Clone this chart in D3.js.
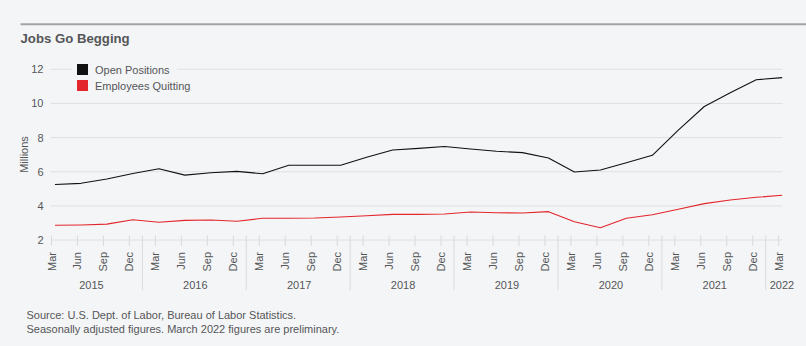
<!DOCTYPE html>
<html><head><meta charset="utf-8">
<script src="https://cdn.jsdelivr.net/npm/d3@7"></script>
<style>
html,body{margin:0;padding:0;background:#f4f5f7;}
svg{display:block;font-family:"Liberation Sans",Arial,sans-serif;}
</style></head>
<body><svg id="c" width="806" height="346"></svg>
<script>
const years = [2015,2015,2015,2015,2016,2016,2016,2016,2017,2017,2017,2017,2018,2018,2018,2018,2019,2019,2019,2019,2020,2020,2020,2020,2021,2021,2021,2021,2022];
const months = ["Mar","Jun","Sep","Dec","Mar","Jun","Sep","Dec","Mar","Jun","Sep","Dec","Mar","Jun","Sep","Dec","Mar","Jun","Sep","Dec","Mar","Jun","Sep","Dec","Mar","Jun","Sep","Dec","Mar"];
const openPositions = [5.25,5.32,5.57,5.9,6.17,5.8,5.94,6.02,5.88,6.38,6.38,6.38,6.85,7.27,7.37,7.48,7.33,7.2,7.12,6.8,5.98,6.1,6.53,6.96,8.44,9.82,10.63,11.39,11.51];
const employeesQuitting = [2.86,2.88,2.93,3.19,3.04,3.15,3.17,3.1,3.27,3.27,3.29,3.35,3.42,3.5,3.5,3.52,3.64,3.6,3.58,3.66,3.07,2.72,3.27,3.48,3.8,4.13,4.34,4.5,4.62];
const yTicks = [2,4,6,8,10,12];
const seriesNames = ["Open Positions","Employees Quitting"];
const seriesColors = ["#111111","#e3262b"];

const svg = d3.select("#c");
const textColor = "#555658";
const keys = years.map((y,i)=>y+"-"+i);
const x = d3.scalePoint().domain(keys).range([51.5,778.7]);
const step = x.step();
const y = d3.scaleLinear().domain([2,12]).range([240,69.3]);
const gridL = 50.7, gridR = 782.3;

// top rule + title
svg.append("line").attr("x1",20.5).attr("x2",806).attr("y1",24.3).attr("y2",24.3).attr("stroke","#a5a5a7").attr("stroke-width",2);
svg.append("text").attr("x",20.5).attr("y",42.5).attr("font-size",13.2).attr("font-weight","bold").attr("fill",textColor).text("Jobs Go Begging");

// gridlines
svg.append("g").selectAll("line").data(yTicks).join("line")
  .attr("x1",gridL).attr("x2",gridR).attr("y1",d=>y(d)).attr("y2",d=>y(d))
  .attr("stroke","#dfe0e3").attr("stroke-width",1);
// y labels
svg.append("g").selectAll("text").data(yTicks).join("text")
  .attr("x",43.5).attr("y",d=>y(d)+4).attr("text-anchor","end")
  .attr("font-size",11).attr("fill",textColor).text(d=>d);
svg.append("text").attr("transform","translate(27.5,154.5) rotate(-90)").attr("text-anchor","middle")
  .attr("font-size",11).attr("fill",textColor).text("Millions");

// x axis ticks
const gx = svg.append("g");
gx.selectAll("line.t").data(keys).join("line").attr("class","t")
  .attr("x1",d=>x(d)).attr("x2",d=>x(d)).attr("y1",235.5).attr("y2",246)
  .attr("stroke","#d9dade").attr("stroke-width",1);
gx.selectAll("text.m").data(keys).join("text").attr("class","m")
  .attr("transform",(d,i)=>`translate(${x(d)+4},252) rotate(-90)`)
  .attr("text-anchor","end").attr("font-size",11).attr("fill",textColor)
  .text((d,i)=>months[i]);
// year separators and labels
const uniqYears = Array.from(new Set(years));
uniqYears.forEach((yr,j)=>{
  const idx = years.map((v,i)=>v===yr?i:-1).filter(i=>i>=0);
  const first = x(keys[idx[0]]), last = x(keys[idx[idx.length-1]]);
  if (j>0) {
    gx.append("line").attr("x1",first-step/2).attr("x2",first-step/2).attr("y1",235.5).attr("y2",290)
      .attr("stroke","#d9dade").attr("stroke-width",1);
  }
  const t = gx.append("text").attr("y",289).attr("font-size",11).attr("fill",textColor).text(yr);
  if (idx.length>1) t.attr("x",(first+last)/2+1).attr("text-anchor","middle");
  else t.attr("x",first-step/2+4).attr("text-anchor","start");
});

// lines
const seriesData = [openPositions, employeesQuitting];
const line = d3.line().x((d,i)=>x(keys[i])+3.5).y(d=>y(d));
seriesData.forEach((s,k)=>{
  svg.append("path").datum(s).attr("d",line).attr("fill","none")
    .attr("stroke",seriesColors[k]).attr("stroke-width",1.1).attr("stroke-linejoin","round");
});

// legend
const lg = svg.append("g");
lg.append("rect").attr("x",72).attr("y",60).attr("width",105).attr("height",33).attr("fill","#f4f5f7");
seriesNames.forEach((n,k)=>{
  lg.append("rect").attr("x",77).attr("y",64+k*16).attr("width",11).attr("height",11).attr("fill",seriesColors[k]);
  lg.append("text").attr("x",95).attr("y",73.5+k*16).attr("font-size",11).attr("fill",textColor).text(n);
});

// footer
svg.append("text").attr("x",26.5).attr("y",319.3).attr("font-size",11).attr("fill",textColor)
  .text("Source: U.S. Dept. of Labor, Bureau of Labor Statistics.");
svg.append("text").attr("x",26.5).attr("y",332.5).attr("font-size",11).attr("fill",textColor)
  .text("Seasonally adjusted figures. March 2022 figures are preliminary.");
</script></body></html>
